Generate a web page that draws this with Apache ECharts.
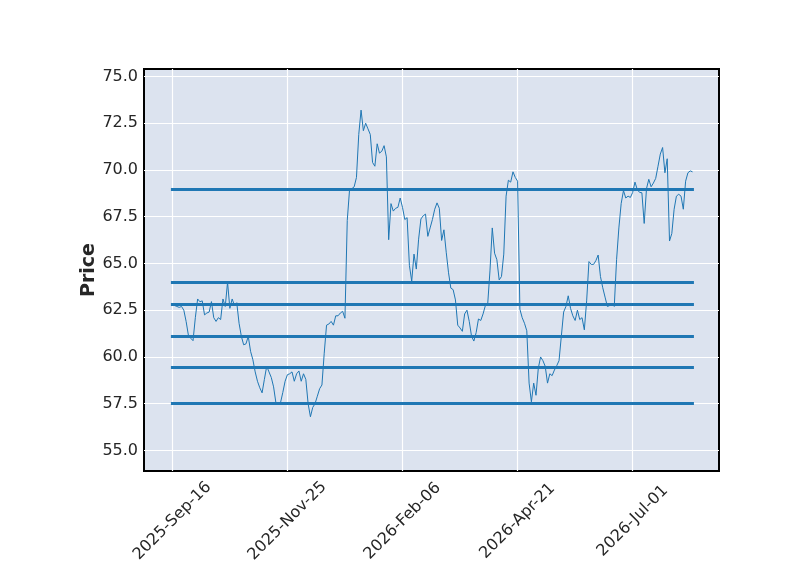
<!DOCTYPE html>
<html>
<head>
<meta charset="utf-8">
<script src="https://cdn.jsdelivr.net/npm/echarts@6/dist/echarts.min.js"></script>
<style>
html,body{margin:0;padding:0;background:#fff;}
#chart{width:800px;height:575px;}
</style>
</head>
<body>
<div id="chart"></div>
<script>
// Price values per trading bar (index 0 = 2025-Sep-16)
var prices = [
62.8,62.75,62.7,62.65,62.7,62.5,61.9,61.15,61.0,60.87,
62.1,63.1,62.95,63.0,62.25,62.35,62.4,62.96,62.1,61.9,
62.1,62.0,63.1,62.7,64.0,62.6,63.1,62.75,62.9,61.8,
61.1,60.65,60.7,61.1,60.3,59.85,59.2,58.7,58.35,58.08,
58.8,59.5,59.2,58.9,58.4,57.55,57.5,57.55,58.1,58.7,
59.05,59.1,59.2,58.7,59.1,59.25,58.7,59.1,58.8,57.5,
56.8,57.3,57.5,57.9,58.3,58.5,60.2,61.7,61.76,61.9,
61.7,62.2,62.2,62.35,62.44,62.07,67.3,68.95,69.0,69.1,
69.6,71.9,73.2,72.1,72.5,72.2,71.9,70.4,70.2,71.4,
70.9,71.0,71.3,70.7,66.27,68.2,67.8,67.95,68.0,68.5,
68.0,67.35,67.45,64.9,64.05,65.5,64.7,66.3,67.38,67.55,
67.64,66.45,66.9,67.35,67.9,68.24,67.95,66.23,66.8,65.6,
64.5,63.68,63.6,63.05,61.7,61.55,61.37,62.3,62.5,61.9,
61.1,60.85,61.3,62.03,61.95,62.3,62.75,62.8,64.6,66.9,
65.55,65.2,64.12,64.3,65.5,68.6,69.45,69.35,69.9,69.6,
69.4,62.55,62.1,61.8,61.4,58.6,57.6,58.6,57.95,59.4,
60.0,59.8,59.5,58.6,59.1,59.0,59.3,59.53,59.8,61.1,
62.4,62.7,63.27,62.6,62.2,61.95,62.5,62.0,62.1,61.45,
63.0,65.1,64.95,64.95,65.15,65.45,64.3,63.7,63.2,62.7,
62.75,62.85,62.7,65.2,66.9,68.2,68.9,68.5,68.6,68.53,
68.8,69.35,68.95,68.8,68.78,67.14,69.0,69.5,69.1,69.3,
69.55,70.2,70.85,71.2,69.85,70.6,66.2,66.6,67.9,68.6,
68.7,68.6,67.9,69.4,69.85,69.95,69.9
];
// Horizontal level lines
var hlineLevels = [68.95, 64.0, 62.8, 61.1, 59.45, 57.5];
// X tick positions (bar index) and labels
var xTickIdx = [0, 50, 100, 150, 200];
var xTickLabels = ['2025-Sep-16', '2025-Nov-25', '2026-Feb-06', '2026-Apr-21', '2026-Jul-01'];
// Y ticks
var yTicks = [55.0, 57.5, 60.0, 62.5, 65.0, 67.5, 70.0, 72.5, 75.0];

var seriesData = prices.map(function (v, i) { return [i, v]; });
var lastIdx = prices.length - 1;
var markData = hlineLevels.map(function (v) {
  return [{ coord: [0, v] }, { coord: [lastIdx, v] }];
});

var chart = echarts.init(document.getElementById('chart'), null, { renderer: 'canvas' });
var FONT = 'DejaVu Sans';
chart.setOption({
  animation: false,
  backgroundColor: '#ffffff',
  textStyle: { fontFamily: FONT },
  grid: {
    left: 144, top: 69, right: 81, bottom: 104,
    show: true,
    backgroundColor: '#DCE3EF',
    borderColor: '#000000',
    borderWidth: 2,
    containLabel: false
  },
  xAxis: {
    type: 'value',
    min: -12.3,
    max: 237.5,
    axisLine: { show: false },
    axisTick: { show: false, customValues: xTickIdx },
    splitLine: { show: true, lineStyle: { color: '#ffffff', width: 1.2 } },
    axisLabel: {
      customValues: xTickIdx,
      rotate: 45,
      align: 'center',
      verticalAlign: 'middle',
      margin: 50,
      fontSize: 16,
      color: '#262626',
      fontFamily: FONT,
      formatter: function (v) {
        var k = xTickIdx.indexOf(Math.round(v));
        return k >= 0 ? xTickLabels[k] : '';
      }
    }
  },
  yAxis: {
    type: 'value',
    min: 53.9,
    max: 75.4,
    name: 'Price',
    nameLocation: 'middle',
    nameRotate: 90,
    nameGap: 45,
    nameMoveOverlap: false,
    nameTextStyle: { fontSize: 19, fontWeight: 'bold', color: '#262626', fontFamily: FONT },
    axisLine: { show: false },
    axisTick: { show: false, customValues: yTicks },
    splitLine: { show: true, lineStyle: { color: '#ffffff', width: 1.2 } },
    axisLabel: {
      customValues: yTicks,
      fontSize: 16,
      margin: 6,
      color: '#262626',
      fontFamily: FONT,
      formatter: function (v) { return v.toFixed(1); }
    }
  },
  series: [
    {
      type: 'line',
      data: [],
      silent: true,
      markLine: {
        silent: true,
        symbol: ['none', 'none'],
        label: { show: false },
        lineStyle: { color: '#1f77b4', width: 2.8, type: 'solid', cap: 'square' },
        emphasis: { disabled: true },
        data: markData
      },
      z: 2
    },
    {
      type: 'line',
      data: seriesData,
      showSymbol: false,
      symbol: 'none',
      silent: true,
      lineStyle: { color: '#1f77b4', width: 1 },
      z: 3
    }
  ]
});
</script>
</body>
</html>
